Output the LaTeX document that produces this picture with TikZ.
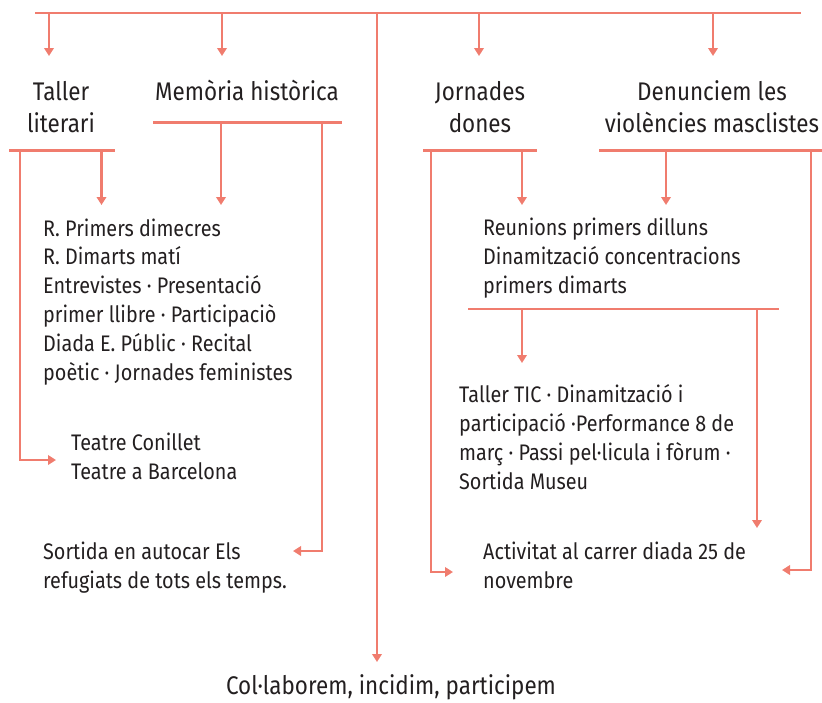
\documentclass[tikz,border=0pt]{standalone}
\usepackage{fontspec}
\setmainfont{Fira Sans}[FakeStretch=0.88]
\usetikzlibrary{arrows.meta}
\definecolor{salmon}{RGB}{240,124,110}
\definecolor{ink}{RGB}{35,31,32}
\begin{document}
\begin{tikzpicture}[x=1pt,y=-1pt,
  link/.style={draw=salmon, line width=2.7pt},
  arr/.style={link, -{Triangle[width=9.5pt,length=8pt]}},
  body/.style={anchor=base west, inner sep=0pt, text=ink, align=left,
    font=\fontsize{22.5}{28.8}\selectfont},
  head/.style={anchor=base, inner sep=0pt, text=ink, align=center,
    font=\fontsize{25.5}{32}\selectfont}]
\path[use as bounding box] (0,0) rectangle (822,702);

% headings (multi-line nodes: base = baseline of last line)
\node[head] (taller) at (61,132) {Taller\\literari};
\node[head] (mem) at (247,100) {Memòria històrica};
\node[head] (jorn) at (480,132) {Jornades\\dones};
\node[head] (den) at (712,132) {Denunciem les\\violències masclistes};
\node[head] (col) at (391,694.5) {Col·laborem, incidim, participem};

% body texts
\node[body] (lt) at (43,380) {R. Primers dimecres\\R. Dimarts matí\\Entrevistes · Presentació\\primer llibre · Participaciò\\Diada E. Públic · Recital\\poètic · Jornades feministes};
\node[body] (teatre) at (71,479.5) {Teatre Conillet\\Teatre a Barcelona};
\node[body] (sortida) at (43,588) {Sortida en autocar Els\\refugiats de tots els temps.};
\node[body] (reun) at (483,293) {Reunions primers dilluns\\Dinamització concentracions\\primers dimarts};
\node[body] (tic) at (459,489) {Taller TIC · Dinamització i\\participació ·Performance 8 de\\març · Passi pel·licula i fòrum ·\\Sortida Museu};
\node[body] (act) at (483,588) {Activitat al carrer diada 25 de\\novembre};

% coordinates
\coordinate (tl) at (35,13);
\coordinate (tr) at (801,13);
\coordinate (tb1) at (49,13);   \coordinate (tt1) at (49,56);
\coordinate (tb2) at (222,13);  \coordinate (tt2) at (222,56);
\coordinate (tb3) at (479,13);  \coordinate (tt3) at (479,56);
\coordinate (tb4) at (713,13);  \coordinate (tt4) at (713,56);
\coordinate (tbc) at (377,13);  \coordinate (ttc) at (377,662);

\coordinate (ta1) at (9,150.5);   \coordinate (ta2) at (115,150.5);
\coordinate (ma1) at (153,122.5); \coordinate (ma2) at (342,122.5);
\coordinate (ja1) at (423,150.5); \coordinate (ja2) at (537,150.5);
\coordinate (da1) at (599,150.5); \coordinate (da2) at (822,150.5);
\coordinate (ra1) at (468,309);   \coordinate (ra2) at (779,309);

% top bar
\draw[link] (tl) -- (tr);
\draw[arr] (tb1) -- (tt1);
\draw[arr] (tb2) -- (tt2);
\draw[arr] (tb3) -- (tt3);
\draw[arr] (tb4) -- (tt4);
\draw[arr] (tbc) -- (ttc);

% Taller literari
\draw[link] (ta1) -- (ta2);
\draw[arr] (101.5,150.5) -- (101.5,205);
\draw[arr] (20,150.5) |- (56,460);

% Memoria historica
\draw[link] (ma1) -- (ma2);
\draw[arr] (221,122.5) -- (221,205);
\draw[arr] (322,122.5) |- (293,551);

% Jornades dones
\draw[link] (ja1) -- (ja2);
\draw[arr] (522,150.5) -- (522,205);
\draw[arr] (431,150.5) |- (453,572);

% Denunciem
\draw[link] (da1) -- (da2);
\draw[arr] (666,150.5) -- (666,205);
\draw[arr] (811,150.5) |- (782,570);

% Reunions
\draw[link] (ra1) -- (ra2);
\draw[arr] (522,309) -- (522,363);
\draw[arr] (757,309) -- (757,528);
\end{tikzpicture}
\end{document}
